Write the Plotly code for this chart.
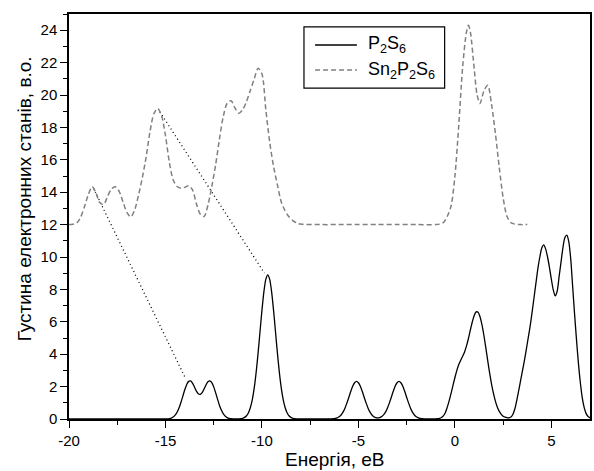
import plotly.graph_objects as go

# Density of states of P2S6 (solid curve), energy in eV
energy_p2s6 = [
    -20.0, -17.5, -15.3, -15.1,
    -15.0, -14.9, -14.8, -14.7, -14.6, -14.5, -14.4, -14.3, -14.2, -14.1,
    -14.0, -13.9, -13.8, -13.7, -13.6, -13.5, -13.4, -13.3, -13.2, -13.1,
    -13.0, -12.9, -12.8, -12.7, -12.6, -12.5, -12.4, -12.3, -12.2, -12.1,
    -12.0, -11.9, -11.8, -11.7, -11.6, -11.5, -11.4, -11.3, -11.2, -11.1,
    -11.0, -10.9, -10.8, -10.7, -10.6, -10.5, -10.4, -10.3, -10.2, -10.1,
    -10.0, -9.9, -9.8, -9.7, -9.6, -9.5, -9.4, -9.3, -9.2, -9.1,
    -9.0, -8.9, -8.8, -8.7, -8.6, -8.5, -8.4, -8.3, -8.2, -8.1, -7.8,
    -6.6, -6.5, -6.4, -6.3, -6.2, -6.1,
    -6.0, -5.9, -5.8, -5.7, -5.6, -5.5, -5.4, -5.3, -5.2, -5.1,
    -5.0, -4.9, -4.8, -4.7, -4.6, -4.5, -4.4, -4.3, -4.2, -4.1,
    -4.0, -3.9, -3.8, -3.7, -3.6, -3.5, -3.4, -3.3, -3.2, -3.1,
    -3.0, -2.9, -2.8, -2.7, -2.6, -2.5, -2.4, -2.3, -2.2, -2.1,
    -2.0, -1.9, -1.8, -1.7, -1.6, -1.5, -1.2, -1.1,
    -1.0, -0.9, -0.8, -0.7, -0.6, -0.5, -0.4, -0.3, -0.2, -0.1,
    0.0, 0.1, 0.2, 0.3, 0.4, 0.5, 0.6, 0.7, 0.8, 0.9,
    1.0, 1.1, 1.2, 1.3, 1.4, 1.5, 1.6, 1.7, 1.8, 1.9,
    2.0, 2.1, 2.2, 2.3, 2.4, 2.5, 2.6, 2.7, 2.8, 2.9,
    3.0, 3.1, 3.2, 3.3, 3.4, 3.5, 3.6, 3.7, 3.8, 3.9,
    4.0, 4.1, 4.2, 4.3, 4.4, 4.5, 4.6, 4.7, 4.8, 4.9,
    5.0, 5.1, 5.2, 5.3, 5.4, 5.5, 5.6, 5.7, 5.8, 5.9,
    6.0, 6.1, 6.2, 6.3, 6.4, 6.5, 6.6, 6.7, 6.8, 6.9, 7.0,
]
dos_p2s6 = [
    0.0, 0.0, 0.0, 0.001,
    0.004, 0.01, 0.026, 0.058, 0.122, 0.235, 0.415, 0.678, 1.018, 1.415,
    1.808, 2.131, 2.323, 2.346, 2.211, 1.977, 1.729, 1.554, 1.517, 1.626,
    1.850, 2.100, 2.295, 2.356, 2.247, 1.982, 1.615, 1.212, 0.839, 0.536,
    0.315, 0.171, 0.086, 0.039, 0.017, 0.007, 0.004, 0.005, 0.009, 0.02,
    0.045, 0.10, 0.20, 0.39, 0.71, 1.20, 1.92, 2.89, 4.08, 5.40,
    6.72, 7.85, 8.62, 8.90, 8.62, 7.85, 6.72, 5.40, 4.08, 2.89,
    1.92, 1.20, 0.71, 0.39, 0.20, 0.10, 0.045, 0.02, 0.009, 0.003, 0.0,
    0.0, 0.003, 0.007, 0.016, 0.035, 0.073,
    0.14, 0.25, 0.42, 0.67, 0.98, 1.33, 1.70, 2.02, 2.24, 2.32,
    2.24, 2.02, 1.70, 1.33, 0.98, 0.67, 0.42, 0.25, 0.14, 0.08,
    0.07, 0.089, 0.147, 0.253, 0.42, 0.67, 0.98, 1.33, 1.70, 2.02,
    2.24, 2.32, 2.24, 2.02, 1.70, 1.33, 0.98, 0.67, 0.42, 0.25,
    0.14, 0.073, 0.035, 0.016, 0.007, 0.003, 0.004, 0.006,
    0.01, 0.02, 0.04, 0.09, 0.19, 0.38, 0.72, 1.12, 1.58, 2.08,
    2.56, 3.00, 3.36, 3.63, 3.87, 4.14, 4.51, 4.97, 5.50, 5.99,
    6.39, 6.61, 6.59, 6.31, 5.82, 5.17, 4.40, 3.60, 2.83, 2.14,
    1.56, 1.09, 0.73, 0.47, 0.29, 0.17, 0.11, 0.08, 0.07, 0.12,
    0.28, 0.60, 1.12, 1.72, 2.35, 2.97, 3.60, 4.30, 5.02, 5.75,
    6.60, 7.50, 8.40, 9.30, 10.00, 10.55, 10.75, 10.50, 10.00, 9.35,
    8.60, 7.95, 7.60, 7.90, 8.80, 9.70, 10.60, 11.20, 11.35, 10.95,
    9.90, 8.20, 6.50, 4.90, 3.45, 2.25, 1.30, 0.70, 0.33, 0.15, 0.07,
]

# Density of states of Sn2P2S6 (dashed curve, shifted up by 12)
energy_sn2p2s6 = [
    -20.0, -19.8, -19.6, -19.4, -19.2, -19.0, -18.8, -18.6, -18.4, -18.2,
    -18.0, -17.8, -17.6, -17.4, -17.2, -17.0, -16.8, -16.6, -16.4, -16.2,
    -16.0, -15.8, -15.6, -15.4, -15.2, -15.0, -14.8, -14.6, -14.4, -14.2,
    -14.0, -13.8, -13.6, -13.4, -13.2, -13.0, -12.8, -12.6, -12.4, -12.2,
    -12.0, -11.8, -11.6, -11.4, -11.2, -11.0, -10.8, -10.6, -10.4, -10.2,
    -10.0, -9.8, -9.6, -9.4, -9.2, -9.0, -8.8, -8.6, -8.4, -8.2,
    -8.0, -7.0, -6.0, -5.0, -4.0, -3.0, -2.0, -1.0,
    -0.8, -0.6, -0.4, -0.2, 0.0, 0.2, 0.4, 0.6, 0.7, 0.8,
    1.0, 1.15, 1.3, 1.5, 1.7, 1.9, 2.1, 2.3, 2.5, 2.7,
    2.9, 3.1, 3.4, 3.75,
]
dos_sn2p2s6 = [
    12.00, 12.02, 12.10, 12.45, 13.10, 13.85, 14.34, 13.95, 13.35, 13.25,
    13.75, 14.20, 14.34, 14.05, 13.40, 12.75, 12.47, 12.90, 13.80, 14.90,
    16.20, 17.75, 18.85, 19.17, 18.70, 17.50, 15.85, 14.75, 14.35, 14.24,
    14.30, 14.40, 14.15, 13.30, 12.65, 12.50, 13.20, 14.35, 15.70, 17.30,
    18.70, 19.50, 19.65, 19.20, 18.87, 19.10, 19.60, 20.30, 21.00, 21.65,
    21.30, 19.10, 17.10, 15.60, 14.45, 13.40, 12.85, 12.48, 12.25, 12.10,
    12.03, 12.00, 12.00, 12.00, 12.00, 12.00, 12.00, 12.00,
    12.03, 12.12, 12.50, 13.15, 15.00, 18.15, 21.74, 23.90, 24.30, 23.90,
    21.60, 20.00, 19.48, 20.25, 20.60, 19.40, 17.60, 15.50, 13.65, 12.50,
    12.12, 12.03, 12.00, 12.00,
]

# Dotted guides joining corresponding peaks of the two spectra
link_energy = [[-18.73, -13.95], [-15.29, -9.87]]
link_dos = [[14.24, 2.48], [18.96, 9.00]]

x_ticks = [-20, -15, -10, -5, 0, 5]
y_ticks = [0, 2, 4, 6, 8, 10, 12, 14, 16, 18, 20, 22, 24]

series_names = ["P<sub>2</sub>S<sub>6</sub>", "Sn<sub>2</sub>P<sub>2</sub>S<sub>6</sub>"]
x_title = "Енергія, еВ"
y_title = "Густина електронних станів, в.о."

FONT = "Arial, Liberation Sans, sans-serif"

fig = go.Figure()

for ex, dy in zip(link_energy, link_dos):
    fig.add_trace(go.Scatter(
        x=ex, y=dy, mode="lines",
        line=dict(color="black", width=1.3, dash="1px,3px"),
        hoverinfo="skip",
    ))

fig.add_trace(go.Scatter(
    x=energy_sn2p2s6, y=dos_sn2p2s6, mode="lines", name=series_names[1],
    line=dict(color="#808080", width=1.5, dash="5px,3px", shape="spline", smoothing=0.8),
))
fig.add_trace(go.Scatter(
    x=energy_p2s6, y=dos_p2s6, mode="lines", name=series_names[0],
    line=dict(color="black", width=1.3, shape="spline", smoothing=0.8),
))

axis_common = dict(
    showline=True, mirror=True, linecolor="black", linewidth=1.5,
    showgrid=False, zeroline=False,
    ticks="outside", ticklen=7, tickwidth=1.3, tickcolor="black",
    tickfont=dict(family=FONT, size=15, color="black"),
)

fig.update_xaxes(
    range=[-20, 7], tickmode="array", tickvals=x_ticks,
    ticktext=[str(v) for v in x_ticks],
    minor=dict(tick0=-20, dtick=2.5, ticks="outside", ticklen=4,
               tickwidth=1.3, tickcolor="black", showgrid=False),
    **axis_common,
)
fig.update_yaxes(
    range=[0, 25], tickmode="array", tickvals=y_ticks,
    ticktext=[str(v) for v in y_ticks],
    minor=dict(tick0=0, dtick=1, ticks="outside", ticklen=4,
               tickwidth=1.3, tickcolor="black", showgrid=False),
    **axis_common,
)

# Boxed legend in the upper middle of the plot area
leg_x0, leg_x1 = 0.451, 0.721
leg_y0, leg_y1 = 0.817, 0.968
row_y = [0.9235, 0.8617]
line_x0, line_x1 = 0.4723, 0.5526
text_x = 0.5698

shapes = [dict(type="rect", xref="paper", yref="paper",
               x0=leg_x0, x1=leg_x1, y0=leg_y0, y1=leg_y1,
               line=dict(color="black", width=1.2), fillcolor="white", layer="above")]
shapes.append(dict(type="line", xref="paper", yref="paper",
                   x0=line_x0, x1=line_x1, y0=row_y[0], y1=row_y[0],
                   line=dict(color="black", width=1.3), layer="above"))
shapes.append(dict(type="line", xref="paper", yref="paper",
                   x0=line_x0, x1=line_x1, y0=row_y[1], y1=row_y[1],
                   line=dict(color="#808080", width=1.5, dash="5px,3px"), layer="above"))

annotations = []
for name, ry in zip(series_names, row_y):
    annotations.append(dict(
        text=name, xref="paper", yref="paper", x=text_x, y=ry,
        xanchor="left", yanchor="middle", showarrow=False,
        font=dict(family=FONT, size=18, color="black"),
    ))
annotations.append(dict(
    text=x_title, xref="paper", yref="paper", x=0.5105, y=-0.101,
    xanchor="center", yanchor="middle", showarrow=False,
    font=dict(family=FONT, size=19, color="black"),
))
annotations.append(dict(
    text=y_title, xref="paper", yref="paper", x=-0.086, y=0.543,
    xanchor="center", yanchor="middle", showarrow=False, textangle=-90,
    font=dict(family=FONT, size=19, color="black"),
))

fig.update_layout(
    width=594, height=471,
    margin=dict(l=69, r=2, t=14, b=52),
    plot_bgcolor="white", paper_bgcolor="white",
    showlegend=False,
    font=dict(family=FONT, color="black"),
    shapes=shapes, annotations=annotations,
)

fig.write_html("out.html")
